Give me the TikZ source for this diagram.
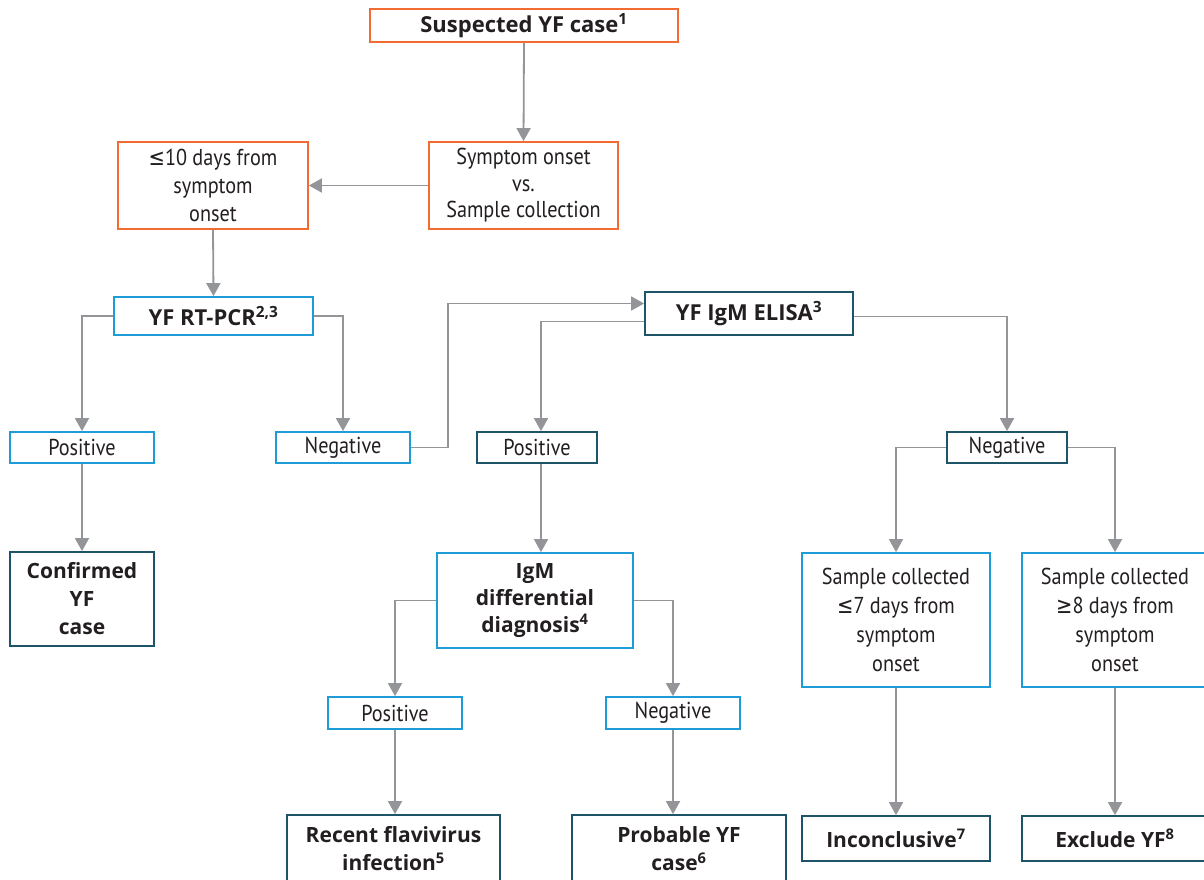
\documentclass[tikz,border=0pt]{standalone}
\usepackage{fontspec}
\setmainfont{PT Sans}
\newfontfamily\regf{PT Sans}[FakeStretch=0.88]
\newfontfamily\boldf{Open Sans}
\newfontfamily\symf{DejaVu Sans}[FakeStretch=0.85]
\usetikzlibrary{arrows.meta,calc}
\definecolor{orng}{HTML}{F26B32}
\definecolor{lblue}{HTML}{1E9CD7}
\definecolor{dteal}{HTML}{1D5468}
\definecolor{arrg}{HTML}{939598}
\definecolor{txt}{HTML}{231F20}
\newcommand{\myle}{{\symf ≤}}
\newcommand{\myge}{{\symf ≥}}
\begin{document}
\begin{tikzpicture}[x=1pt,y=-1pt,
 box/.style={draw,line width=1.8pt,fill=white,inner sep=0pt,align=center,text=txt},
 ob/.style={box,draw=orng}, bb/.style={box,draw=lblue}, tb/.style={box,draw=dteal},
 reg/.style={font=\regf\fontsize{23}{29}\selectfont},
 bld/.style={font=\boldf\bfseries\fontsize{21}{28}\selectfont},
 arr/.style={draw=arrg,line width=1.8pt,-{Triangle[width=14pt,length=13pt]}},
 ln/.style={draw=arrg,line width=1.8pt}]
\clip (0,0) rectangle (1204,879);
\fill[white] (0,0) rectangle (1204,879);

\node[ob,bld,font=\boldf\bfseries\fontsize{22}{28}\selectfont,minimum width=308pt,minimum height=33pt] (susp) at (524,25.5) {Suspected YF case\textsuperscript{1}};
\node[ob,reg,font=\regf\fontsize{23}{26.5}\selectfont,minimum width=189pt,minimum height=87pt] (symp) at (523.5,185.5) {Symptom onset\\vs.\\Sample collection};
\node[ob,reg,font=\regf\fontsize{23}{28}\selectfont,minimum width=190pt,minimum height=87pt] (le10) at (213,185.5) {\myle10 days from\\symptom\\onset};
\node[bb,bld,font=\boldf\bfseries\fontsize{22}{28}\selectfont,minimum width=199pt,minimum height=38pt] (rtpcr) at (213.5,316) {YF RT-PCR\textsuperscript{2,3}};
\node[bb,reg,minimum width=144pt,minimum height=31pt] (posl) at (82,447.5) {Positive};
\node[bb,reg,minimum width=134pt,minimum height=31pt] (negl) at (343,447.5) {Negative};
\node[tb,bld,minimum width=144pt,minimum height=94pt] (conf) at (82,599) {Confirmed\\YF\\case};
\node[tb,bld,font=\boldf\bfseries\fontsize{22}{28}\selectfont,minimum width=208pt,minimum height=43pt] (elisa) at (749,313.5) {YF IgM ELISA\textsuperscript{3}};
\node[tb,reg,minimum width=120pt,minimum height=31pt] (posm) at (537,447.5) {Positive};
\node[tb,reg,minimum width=120pt,minimum height=31pt] (negr) at (1007,447.5) {Negative};
\node[bb,bld,font=\boldf\bfseries\fontsize{21}{27}\selectfont,minimum width=196pt,minimum height=95pt] (igm) at (535,600.5) {IgM\\differential\\diagnosis\textsuperscript{4}};
\node[bb,reg,minimum width=134pt,minimum height=32pt] (posb) at (395,713) {Positive};
\node[bb,reg,minimum width=134pt,minimum height=32pt] (negb) at (673,713) {Negative};
\node[tb,bld,minimum width=213pt,minimum height=68pt] (recent) at (393.5,849) {Recent flavivirus\\infection\textsuperscript{5}};
\node[tb,bld,minimum width=214pt,minimum height=68pt] (prob) at (679,849) {Probable YF\\case\textsuperscript{6}};
\node[bb,reg,minimum width=188pt,minimum height=134pt] (s7) at (896,620) {Sample collected\\\myle7 days from\\symptom\\onset};
\node[bb,reg,minimum width=186pt,minimum height=134pt] (s8) at (1115,620) {Sample collected\\\myge8 days from\\symptom\\onset};
\node[tb,bld,minimum width=188pt,minimum height=45pt] (inc) at (896,838.5) {Inconclusive\textsuperscript{7}};
\node[tb,bld,minimum width=186pt,minimum height=45pt] (excl) at (1115,838.5) {Exclude YF\textsuperscript{8}};

\draw[arr] (susp.south) -- (symp.north);
\draw[arr] (symp.west) -- (le10.east);
\draw[arr] (le10.south) -- (rtpcr.north);
\draw[arr] (rtpcr.west) -| (posl.north);
\draw[arr] (rtpcr.east) -| (negl.north);
\draw[arr] (posl.south) -- (conf.north);
\draw[arr] (negl.east) -- ++(37,0) |- ([yshift=10pt]elisa.west);
\draw[arr] ([yshift=-8pt]elisa.west) -| ([xshift=4pt]posm.north);
\draw[arr] ([yshift=-3pt]elisa.east) -| (negr.north);
\draw[arr] ([xshift=4pt]posm.south) -- ([xshift=4pt]posm.south |- igm.north);
\draw[arr] (igm.west) -| (posb.north);
\draw[arr] (igm.east) -| (negb.north);
\draw[arr] (posb.south) -- (posb.south |- recent.north);
\draw[arr] (negb.south) -- (negb.south |- prob.north);
\draw[arr] (negr.west) -| (s7.north);
\draw[arr] (negr.east) -| (s8.north);
\draw[arr] (s7.south) -- (inc.north);
\draw[arr] (s8.south) -- (excl.north);
\end{tikzpicture}
\end{document}
